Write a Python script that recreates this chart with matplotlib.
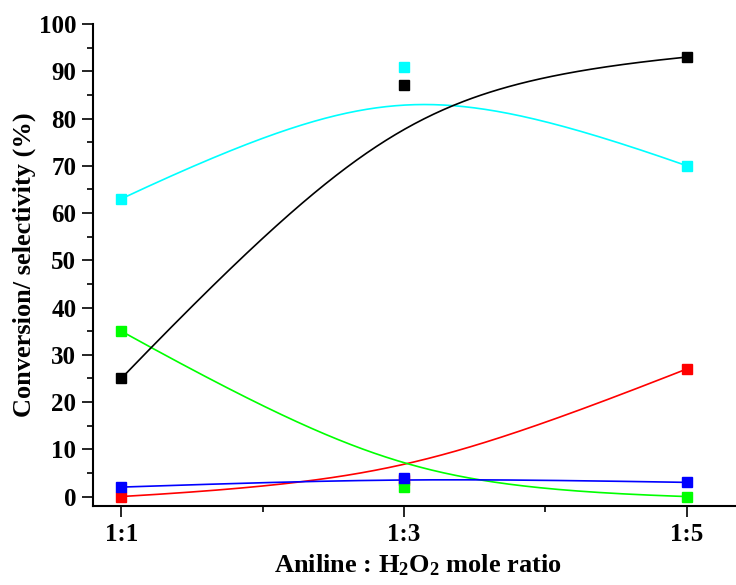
import numpy as np
import matplotlib
matplotlib.use("Agg")
import matplotlib.pyplot as plt
from matplotlib.ticker import MultipleLocator, FixedLocator

plt.rcParams['font.family'] = ['Liberation Serif', 'DejaVu Serif']
plt.rcParams['font.weight'] = 'bold'
plt.rcParams['mathtext.fontset'] = 'custom'
plt.rcParams['mathtext.rm'] = 'Liberation Serif:bold'
plt.rcParams['mathtext.it'] = 'Liberation Serif:bold'
plt.rcParams['mathtext.bf'] = 'Liberation Serif:bold'

# Data
ratios = [1, 3, 5]
ratio_labels = ['1:1', '1:3', '1:5']
conversion = [25, 87, 93]        # black
sel_cyan = [63, 91, 70]          # cyan
sel_red = [0, 3.5, 27]           # red (middle hidden)
sel_green = [35, 2, 0]           # green
sel_blue = [2, 4, 3]             # blue

series = [
    (sel_red, '#FF0000'),
    (sel_green, '#00FF00'),
    (sel_blue, '#0000FF'),
    (sel_cyan, '#00FFFF'),
    (conversion, '#000000'),
]


def bspline(xs, ys, w=2.0, n=200):
    # rational quadratic Bezier smoothing through control points (Origin-like B-spline)
    t = np.linspace(0, 1, n)
    b0 = (1 - t) ** 2
    b1 = 2 * w * t * (1 - t)
    b2 = t ** 2
    den = b0 + b1 + b2
    x = (b0 * xs[0] + b1 * xs[1] + b2 * xs[2]) / den
    y = (b0 * ys[0] + b1 * ys[1] + b2 * ys[2]) / den
    return x, y


fig = plt.figure(figsize=(7.36, 5.85), dpi=100)
ax = fig.add_axes([93 / 736, 79 / 585, (736 - 93) / 736 + 0.01, (506 - 24) / 585])

for ys, c in series:
    cx, cy = bspline(ratios, ys)
    ax.plot(cx, cy, color=c, lw=1.2, zorder=2)
for ys, c in series:
    ax.plot(ratios, ys, ls='none', marker='s', ms=6.7, color=c, mec=c, zorder=3)

ax.set_xlim(0.8, 5.4)
ax.set_ylim(-2, 100)

ax.spines['top'].set_visible(False)
ax.spines['right'].set_visible(False)
ax.spines['left'].set_linewidth(1.5)
ax.spines['bottom'].set_linewidth(1.5)

ax.set_xticks(ratios)
ax.set_xticklabels(ratio_labels)
ax.xaxis.set_minor_locator(FixedLocator([2, 4]))
ax.yaxis.set_major_locator(MultipleLocator(10))
ax.yaxis.set_minor_locator(MultipleLocator(5))
ax.set_yticks(np.arange(0, 101, 10))

ax.tick_params(axis='both', which='major', direction='out', length=8, width=1.2,
               labelsize=18, pad=4)
ax.tick_params(axis='both', which='minor', direction='out', length=4, width=1.2)
for lab in ax.get_xticklabels() + ax.get_yticklabels():
    lab.set_fontweight('bold')

ax.set_xlabel(r'Aniline : H$_{2}$O$_{2}$ mole ratio', fontsize=19, fontweight='bold', labelpad=5)
ax.set_ylabel('Conversion/ selectivity (%)', fontsize=19, fontweight='bold', labelpad=2)

fig.savefig('out.png', dpi=100)
